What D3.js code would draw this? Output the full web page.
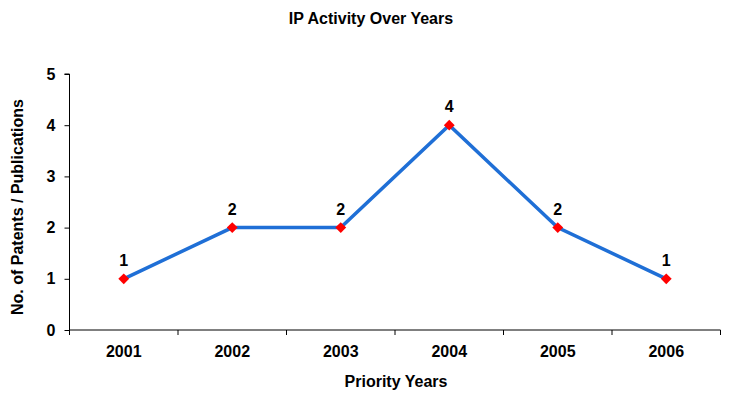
<!DOCTYPE html>
<html>
<head>
<meta charset="utf-8">
<script src="https://cdn.jsdelivr.net/npm/d3@7"></script>
<style>
  body { margin: 0; background: #fff; }
  text { font-family: "Liberation Sans", Arial, sans-serif; font-weight: bold; fill: #000; }
</style>
</head>
<body>
<div id="plot"></div>
<script>
// chart data
var years = ["2001", "2002", "2003", "2004", "2005", "2006"];
var counts = [1, 2, 2, 4, 2, 1];
var yTicks = [0, 1, 2, 3, 4, 5];

var svgWidth = 740;
var svgHeight = 400;
var margin = { top: 74, right: 20, bottom: 70, left: 69.5 };
var width = 720.5 - margin.left;
var height = 330 - margin.top;

var svg = d3.select("#plot")
  .append("svg")
  .attr("width", svgWidth)
  .attr("height", svgHeight);

var chartGroup = svg.append("g")
  .attr("transform", `translate(${margin.left}, ${margin.top})`);

var xBand = d3.scaleBand()
  .domain(years)
  .range([0, width]);

var yLinearScale = d3.scaleLinear()
  .domain([0, 5])
  .range([height, 0]);

// y axis
var leftAxis = d3.axisLeft(yLinearScale)
  .tickValues(yTicks)
  .tickFormat(d3.format("d"))
  .tickSize(5)
  .tickPadding(9);
var yG = chartGroup.append("g").call(leftAxis);
yG.select(".domain").attr("stroke", "#000").attr("d", `M-5,0H0V${height}`);
yG.selectAll("text").style("font-size", "16px");

// x axis: ticks at category boundaries
var bottomAxis = d3.axisBottom(xBand).tickSize(0).tickPadding(16);
var xG = chartGroup.append("g")
  .attr("transform", `translate(0, ${height})`)
  .call(bottomAxis);
xG.select(".domain").attr("stroke", "#000").attr("d", `M0,0H${width}`);
xG.selectAll("text").style("font-size", "16px");
xG.selectAll(".bound")
  .data(d3.range(years.length + 1))
  .enter()
  .append("line")
  .attr("class", "bound")
  .attr("x1", i => i * xBand.bandwidth())
  .attr("x2", i => i * xBand.bandwidth())
  .attr("y1", 0)
  .attr("y2", 5)
  .attr("stroke", "#000");

var cx = d => xBand(d) + xBand.bandwidth() / 2;

// line
var line = d3.line()
  .x((d, i) => cx(years[i]))
  .y(d => yLinearScale(d));

chartGroup.append("path")
  .datum(counts)
  .attr("fill", "none")
  .attr("stroke", "#1f6fd6")
  .attr("stroke-width", 3.5)
  .attr("d", line);

// markers
chartGroup.selectAll(".marker")
  .data(counts)
  .enter()
  .append("path")
  .attr("class", "marker")
  .attr("d", d3.symbol().type(d3.symbolDiamond2).size(75))
  .attr("transform", (d, i) => `translate(${cx(years[i])}, ${yLinearScale(d)})`)
  .attr("fill", "#ff0000");

// data labels
chartGroup.selectAll(".lbl")
  .data(counts)
  .enter()
  .append("text")
  .attr("class", "lbl")
  .attr("x", (d, i) => cx(years[i]))
  .attr("y", d => yLinearScale(d) - 13)
  .attr("text-anchor", "middle")
  .style("font-size", "16px")
  .text(d => d);

// titles
svg.append("text")
  .attr("x", 371)
  .attr("y", 24)
  .attr("text-anchor", "middle")
  .style("font-size", "16px")
  .text("IP Activity Over Years");

svg.append("text")
  .attr("x", 396)
  .attr("y", 387)
  .attr("text-anchor", "middle")
  .style("font-size", "16px")
  .text("Priority Years");

svg.append("text")
  .attr("transform", "rotate(-90)")
  .attr("x", -207)
  .attr("y", 23)
  .attr("text-anchor", "middle")
  .style("font-size", "16px")
  .text("No. of Patents / Publications");
</script>
</body>
</html>
